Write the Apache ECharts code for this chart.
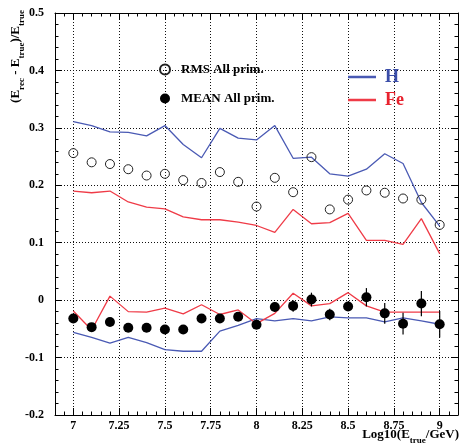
<!DOCTYPE html>
<html>
<head>
<meta charset="utf-8">
<script src="https://cdn.jsdelivr.net/npm/echarts@6/dist/echarts.min.js"></script>
<style>
  html, body { margin: 0; padding: 0; background: #fff; }
  #chart { width: 460px; height: 443px; }
</style>
</head>
<body>
<div id="chart"></div>
<script>
// Energy bins, log10(E_true / GeV)
const energies = [7.0, 7.1, 7.2, 7.3, 7.4, 7.5, 7.6, 7.7, 7.8, 7.9, 8.0,
                  8.1, 8.2, 8.3, 8.4, 8.5, 8.6, 8.7, 8.8, 8.9, 9.0];

// RMS of (E_rec - E_true)/E_true
const rmsAll = [0.256, 0.240, 0.237, 0.228, 0.217, 0.220, 0.209, 0.204, 0.223, 0.206, 0.163,
                0.213, 0.188, 0.249, 0.158, 0.175, 0.191, 0.187, 0.177, 0.175, 0.131];
const rmsH   = [0.311, 0.304, 0.293, 0.292, 0.286, 0.304, 0.271, 0.248, 0.299, 0.282, 0.279,
                0.304, 0.247, 0.249, 0.220, 0.216, 0.228, 0.255, 0.238, 0.170, 0.129];
const rmsFe  = [0.190, 0.187, 0.190, 0.171, 0.162, 0.159, 0.145, 0.140, 0.140, 0.136, 0.130,
                0.118, 0.158, 0.133, 0.135, 0.151, 0.104, 0.104, 0.097, 0.142, 0.081];

// MEAN of (E_rec - E_true)/E_true
const meanAll = [-0.032, -0.047, -0.038, -0.048, -0.048, -0.051, -0.051, -0.032, -0.032, -0.029, -0.043,
                 -0.012, -0.010, 0.001, -0.025, -0.011, 0.005, -0.023, -0.041, -0.006, -0.042];
const meanErr = [0.006, 0.006, 0.006, 0.006, 0.006, 0.006, 0.006, 0.006, 0.006, 0.006, 0.006,
                 0.008, 0.010, 0.012, 0.010, 0.007, 0.016, 0.018, 0.019, 0.022, 0.023];
const meanH  = [-0.056, -0.065, -0.075, -0.065, -0.074, -0.086, -0.089, -0.089, -0.054, -0.044, -0.032,
                -0.036, -0.032, -0.036, -0.029, -0.031, -0.031, -0.038, -0.031, -0.036, -0.042];
const meanFe = [-0.019, -0.052, 0.007, -0.020, -0.021, -0.014, -0.024, -0.008, -0.025, -0.017, -0.041,
                -0.023, 0.012, -0.010, -0.006, 0.013, -0.010, -0.021, -0.021, -0.021, -0.021];

// Axis ticks
const xMajorTicks = [7, 7.25, 7.5, 7.75, 8, 8.25, 8.5, 8.75, 9];
const xMinorTicks = [6.95, 7.05, 7.1, 7.15, 7.2, 7.3, 7.35, 7.4, 7.45, 7.55, 7.6, 7.65, 7.7,
                     7.8, 7.85, 7.9, 7.95, 8.05, 8.1, 8.15, 8.2, 8.3, 8.35, 8.4, 8.45, 8.55,
                     8.6, 8.65, 8.7, 8.8, 8.85, 8.9, 8.95, 9.05];
const yTicks = [-0.2, -0.1, 0, 0.1, 0.2, 0.3, 0.4, 0.5];

const SERIF = '"Liberation Serif", "DejaVu Serif", "Times New Roman", serif';
const BLUE = '#4a5ab4';
const RED = '#ef3b47';

const pairs = (ys) => energies.map((x, i) => [x, ys[i]]);

const xRange = { min: 6.9, max: 9.1 };
const yRange = { min: yTicks[0], max: yTicks[yTicks.length - 1], interval: 0.1 };

function xAxisDef(position, ticks, len, main) {
  return Object.assign({
    type: 'value', position: position, gridIndex: 0,
    axisLine: { show: main, onZero: false, lineStyle: { color: '#000', width: 1 } },
    axisTick: { show: true, inside: true, length: len, customValues: ticks,
                lineStyle: { color: '#000', width: 1 } },
    axisLabel: { show: false },
    splitLine: { show: false }
  }, xRange);
}

const xAxes = [
  xAxisDef('bottom', xMajorTicks, 7, true),
  xAxisDef('bottom', xMinorTicks, 3.5, false),
  xAxisDef('top', xMajorTicks, 7, true),
  xAxisDef('top', xMinorTicks, 3.5, false)
];
xAxes[0].axisLabel = {
  show: true, customValues: xMajorTicks, margin: 5,
  formatter: (v) => String(+v.toFixed(2)),
  color: '#000', fontFamily: SERIF, fontWeight: 'bold', fontSize: 12
};
xAxes[0].splitLine = { show: true, lineStyle: { color: '#111', width: 1, type: [1, 2] } };

function yAxisDef(position, main) {
  return Object.assign({
    type: 'value', position: position, gridIndex: 0,
    axisLine: { show: true, onZero: false, lineStyle: { color: '#000', width: 1 } },
    axisTick: { show: true, inside: true, length: 7, lineStyle: { color: '#000', width: 1 } },
    minorTick: { show: true, splitNumber: 5, length: 3.5, lineStyle: { color: '#000', width: 1 } },
    axisLabel: main ? {
      show: true, margin: 11,
      formatter: (v) => String(+v.toFixed(1)),
      color: '#000', fontFamily: SERIF, fontWeight: 'bold', fontSize: 12
    } : { show: false },
    splitLine: main ? { show: true, lineStyle: { color: '#111', width: 1, type: [1, 2] } } : { show: false }
  }, yRange);
}

const chart = echarts.init(document.getElementById('chart'), null, { renderer: 'canvas' });

chart.setOption({
  animation: false,
  backgroundColor: '#fff',
  grid: { left: 55, right: 2, top: 13, bottom: 28, containLabel: false, outerBoundsMode: 'none' },
  xAxis: xAxes,
  yAxis: [yAxisDef('left', true), yAxisDef('right', false)],
  legend: [
    {
      data: ['RMS All prim.', 'MEAN All prim.'],
      orient: 'vertical', left: 159, top: 63, padding: 0,
      itemWidth: 10, itemHeight: 10, itemGap: 16,
      textStyle: { color: '#000', fontFamily: SERIF, fontWeight: 'bold', fontSize: 13,
                   padding: [0, 0, 0, 6] },
      selectedMode: false
    },
    {
      data: [
        { name: 'H', icon: 'rect', textStyle: { color: '#3b4ea9' } },
        { name: 'Fe', icon: 'rect', textStyle: { color: '#e8222e' } }
      ],
      orient: 'vertical', left: 348, top: 68, padding: 0,
      itemWidth: 28, itemHeight: 2.5, itemGap: 5,
      textStyle: { fontFamily: SERIF, fontWeight: 'bold', fontSize: 18, padding: [0, 0, 0, 4] },
      selectedMode: false
    }
  ],
  graphic: [
    {
      type: 'text', x: 16, y: 10, rotation: Math.PI / 2,
      style: {
        text: '{m|(E}{s|rec}{m| - E}{s|true}{m|)/E}{s|true}',
        align: 'right', verticalAlign: 'middle',
        rich: {
          m: { fontFamily: SERIF, fontWeight: 'bold', fontSize: 13, lineHeight: 20,
               verticalAlign: 'middle', fill: '#000' },
          s: { fontFamily: SERIF, fontWeight: 'bold', fontSize: 9, lineHeight: 9,
               verticalAlign: 'bottom', fill: '#000' }
        }
      }
    },
    {
      type: 'text', x: 459, y: 435,
      style: {
        text: '{m|Log10(E}{s|true}{m|/GeV)}',
        align: 'right', verticalAlign: 'middle',
        rich: {
          m: { fontFamily: SERIF, fontWeight: 'bold', fontSize: 13, lineHeight: 20,
               verticalAlign: 'middle', fill: '#000' },
          s: { fontFamily: SERIF, fontWeight: 'bold', fontSize: 9, lineHeight: 9,
               verticalAlign: 'bottom', fill: '#000' }
        }
      }
    }
  ],
  series: [
    { name: 'H', type: 'line', data: pairs(rmsH), symbol: 'none', z: 2,
      lineStyle: { color: BLUE, width: 1.3 }, itemStyle: { color: BLUE } },
    { name: 'H', type: 'line', data: pairs(meanH), symbol: 'none', z: 2,
      lineStyle: { color: BLUE, width: 1.3 }, itemStyle: { color: BLUE } },
    { name: 'Fe', type: 'line', data: pairs(rmsFe), symbol: 'none', z: 2,
      lineStyle: { color: RED, width: 1.3 }, itemStyle: { color: RED } },
    { name: 'Fe', type: 'line', data: pairs(meanFe), symbol: 'none', z: 2,
      lineStyle: { color: RED, width: 1.3 }, itemStyle: { color: RED } },
    {
      name: 'MEAN errors', type: 'custom', z: 3,
      data: energies.map((x, i) => [x, meanAll[i] - meanErr[i], meanAll[i] + meanErr[i]]),
      encode: { x: 0, y: [1, 2] },
      renderItem: (params, api) => {
        const lo = api.coord([api.value(0), api.value(1)]);
        const hi = api.coord([api.value(0), api.value(2)]);
        return { type: 'line', shape: { x1: lo[0], y1: lo[1], x2: hi[0], y2: hi[1] },
                 style: { stroke: '#000', lineWidth: 1.2 } };
      }
    },
    { name: 'MEAN All prim.', type: 'scatter', data: pairs(meanAll), z: 4,
      symbol: 'circle', symbolSize: 10, itemStyle: { color: '#000', opacity: 1 } },
    { name: 'RMS All prim.', type: 'scatter', data: pairs(rmsAll), z: 4,
      symbol: 'circle', symbolSize: 9,
      itemStyle: { color: 'rgba(255,255,255,0)', borderColor: '#222', borderWidth: 1, opacity: 1 } }
  ]
});
</script>
</body>
</html>
